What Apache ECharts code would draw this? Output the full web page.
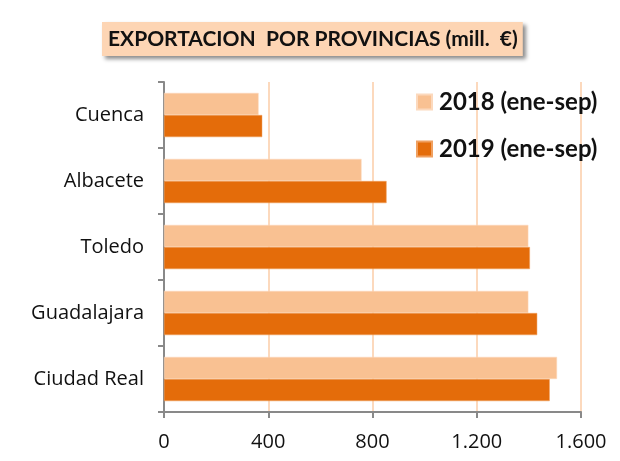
<!DOCTYPE html>
<html>
<head>
<meta charset="utf-8">
<script src="https://cdn.jsdelivr.net/npm/echarts@6/dist/echarts.min.js"></script>
<style>
  html, body { margin: 0; padding: 0; background: #fff; }
  #main { width: 620px; height: 461px; }
</style>
</head>
<body>
<div id="main"></div>
<script>
var provincias = ["Ciudad Real", "Guadalajara", "Toledo", "Albacete", "Cuenca"];
var serie2018 = [1508, 1398, 1398, 758, 363];
var serie2019 = [1480, 1432, 1404, 854, 377];
var xTicks = [0, 400, 800, 1200, 1600];

var myChart = echarts.init(document.getElementById("main"));
var option = {
  animation: false,
  title: {
    text: "EXPORTACION  POR PROVINCIAS (mill.  €)",
    left: 102,
    top: 22,
    padding: [7, 5, 6, 6],
    backgroundColor: "#fdd5b4",
    shadowBlur: 4,
    shadowColor: "rgba(0,0,0,0.45)",
    shadowOffsetX: 3,
    shadowOffsetY: 3,
    textStyle: {
      fontFamily: "Lato",
      fontWeight: "bold",
      fontSize: 21,
      color: "#111"
    }
  },
  legend: {
    orient: "vertical",
    left: 416,
    top: 90,
    padding: 0,
    itemWidth: 15,
    itemHeight: 15,
    itemGap: 23,
    icon: "rect",
    textStyle: {
      fontFamily: "Lato",
      fontWeight: "bold",
      fontSize: 24,
      color: "#111",
      padding: [0, 0, 0, 2]
    },
    data: ["2018 (ene-sep)", "2019 (ene-sep)"]
  },
  grid: {
    left: 164,
    right: 39,
    top: 82,
    bottom: 49
  },
  xAxis: {
    type: "value",
    min: 0,
    max: 1600,
    interval: 400,
    axisLine: { show: true, lineStyle: { color: "#898989", width: 2 } },
    axisTick: { show: true, length: 6, lineStyle: { color: "#898989", width: 2 } },
    splitLine: { show: true, lineStyle: { color: "#fcd9bd", width: 2 } },
    axisLabel: {
      fontFamily: "Open Sans",
      fontSize: 20,
      color: "#111",
      margin: 20,
      formatter: function (v) {
        return v >= 1000 ? (v / 1000).toFixed(3) : String(v);
      }
    }
  },
  yAxis: {
    type: "category",
    data: provincias,
    axisLine: { show: true, lineStyle: { color: "#898989", width: 2 } },
    axisTick: { show: true, length: 6, lineStyle: { color: "#898989", width: 2 } },
    axisLabel: {
      fontFamily: "Open Sans",
      fontSize: 20,
      color: "#111",
      margin: 20
    }
  },
  series: [
    {
      name: "2018 (ene-sep)",
      type: "bar",
      data: serie2018,
      barGap: "0%",
      barCategoryGap: "33%",
      itemStyle: { color: "#f9c192", borderColor: "#fcd9bd", borderWidth: 0.5 }
    },
    {
      name: "2019 (ene-sep)",
      type: "bar",
      data: serie2019,
      itemStyle: { color: "#e46c0a", borderColor: "#f0a060", borderWidth: 0.5 }
    }
  ]
};
myChart.setOption(option);
</script>
</body>
</html>
